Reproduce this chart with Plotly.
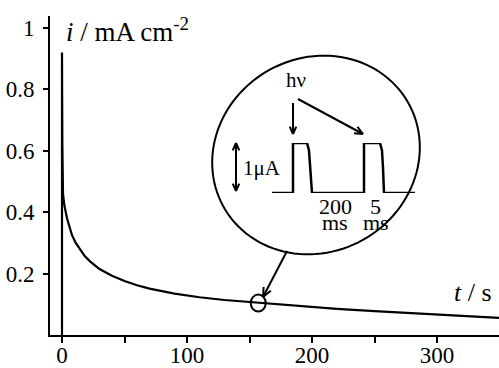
import numpy as np
import plotly.graph_objects as go

# Chronoamperometric current decay (time in s, current density in mA cm^-2)
time_s = [0, 0, 0.3, 0.8, 2, 4, 6, 8, 11, 14.4, 18, 22.4, 30, 40, 50, 60, 70, 90, 110,
          130, 157, 190, 220, 250, 280, 310, 350]
current = [0, 0.92, 0.62, 0.46, 0.42, 0.38, 0.35, 0.325, 0.3, 0.278, 0.258, 0.24,
           0.215, 0.193, 0.176, 0.162, 0.151, 0.135, 0.123, 0.114, 0.105, 0.094,
           0.085, 0.078, 0.071, 0.064, 0.056]

# Highlighted point on the decay curve
marked_t = 157
marked_i = 0.104

# Schematic photocurrent response to light pulses (inset, current in uA)
pulse_x = [0, 21, 21, 35, 37, 38.5, 40, 92, 92, 108, 110, 111, 112, 143]
pulse_y = [0, 0, 1, 1, 0.85, 0.5, 0, 0, 1, 1, 0.85, 0.5, 0, 0]

x_ticks = [0, 50, 100, 150, 200, 250, 300]
x_tick_text = ["0", "", "100", "", "200", "", "300"]
y_ticks = [0.2, 0.4, 0.6, 0.8, 1.0]
y_tick_text = ["0.2", "0.4", "0.6", "0.8", "1"]

W, H = 499, 368
ML, MR, MT, MB = 50, 0, 16, 33
PW, PH = W - ML - MR, H - MT - MB
FONT = "Liberation Serif"


def px(x, y):
    """Pixel position -> paper coordinates."""
    return (x - ML) / PW, (H - MB - y) / PH


def path_from(points, close=False):
    pts = [px(x, y) for x, y in points]
    s = "M " + " L ".join(f"{a:.5f},{b:.5f}" for a, b in pts)
    return s + (" Z" if close else "")


def arrow(x0, y0, x1, y1, head=8, ang=24):
    d = np.array([x1 - x0, y1 - y0], float)
    d /= np.linalg.norm(d)
    shapes = [dict(type="path", path=path_from([(x0, y0), (x1, y1)]))]
    for s in (1, -1):
        a = np.radians(ang * s)
        r = np.array([[np.cos(a), -np.sin(a)], [np.sin(a), np.cos(a)]]) @ d
        hx, hy = x1 - head * r[0], y1 - head * r[1]
        shapes.append(dict(type="path", path=path_from([(hx, hy), (x1, y1)])))
    return shapes


fig = go.Figure()
fig.add_trace(go.Scatter(x=time_s, y=current, mode="lines",
                         line=dict(color="black", width=2.2),
                         hoverinfo="skip", showlegend=False))
fig.add_trace(go.Scatter(x=pulse_x, y=pulse_y, mode="lines", xaxis="x2", yaxis="y2",
                         line=dict(color="black", width=2.5),
                         hoverinfo="skip", showlegend=False))

shapes = []
# callout ellipse
t = np.linspace(0, 2 * np.pi, 120)
cx, cy, a, b, th = 316, 155, 106, 97, np.radians(30)
ex = cx + a * np.cos(t) * np.cos(th) - b * np.sin(t) * np.sin(th)
ey = cy - (a * np.cos(t) * np.sin(th) + b * np.sin(t) * np.cos(th))
shapes.append(dict(type="path", path=path_from(list(zip(ex, ey)), close=True)))
# arrows
shapes += arrow(287, 251, 263, 297, head=10)
shapes += arrow(293, 103, 293, 134, head=8)
shapes += arrow(298, 99, 363, 134, head=9)
shapes += arrow(236, 167, 236, 143, head=8)
shapes += arrow(236, 167, 236, 191, head=8)
for s in shapes:
    s.update(xref="paper", yref="paper", line=dict(color="black", width=2))

# small marker ellipse on the curve
shapes.append(dict(type="circle", xref="x", yref="y",
                   xsizemode="pixel", ysizemode="pixel",
                   xanchor=marked_t, yanchor=marked_i,
                   x0=-7.5, x1=7.5, y0=-8.5, y1=8.5,
                   line=dict(color="black", width=2)))

annotations = []


def label(text, x, y, size, xanchor="center"):
    xp, yp = px(x, y)
    annotations.append(dict(text=text, x=xp, y=yp, xref="paper", yref="paper",
                            xanchor=xanchor, yanchor="middle", showarrow=False,
                            font=dict(family=FONT, size=size, color="black")))


label("<i>i</i> / mA cm<sup>-2</sup>", 64, 30, 27, xanchor="left")
label("<i>t</i> / s", 452, 292, 26, xanchor="left")
label("hν", 296, 80, 21)
label("1μA", 262, 168, 21)
label("200", 335, 206, 22)
label("ms", 335, 223, 22)
label("5", 375, 206, 22)
label("ms", 376, 223, 22)

inset_x0, inset_y_top = px(272, 143)
inset_x1, inset_y_bot = px(415, 193)

fig.update_layout(
    width=W, height=H,
    margin=dict(l=ML, r=MR, t=MT, b=MB, autoexpand=False),
    paper_bgcolor="white", plot_bgcolor="white",
    font=dict(family=FONT, size=23, color="black"),
    shapes=shapes, annotations=annotations,
    xaxis=dict(range=[-9.6, 349.6], showline=True, linewidth=2, linecolor="black",
               ticks="outside", ticklen=6, tickwidth=2, tickcolor="black",
               tickvals=x_ticks, ticktext=x_tick_text, showgrid=False,
               zeroline=False, automargin=False, ticklabelstandoff=-8),
    yaxis=dict(range=[0, 1.039], showline=True, linewidth=2, linecolor="black",
               ticks="outside", ticklen=5, tickwidth=2, tickcolor="black",
               tickvals=y_ticks, ticktext=y_tick_text, showgrid=False,
               zeroline=False, ticklabelstandoff=4, automargin=False),
    xaxis2=dict(domain=[inset_x0, inset_x1], range=[0, 143], anchor="y2",
                visible=False),
    yaxis2=dict(domain=[inset_y_bot, inset_y_top], range=[0, 1], anchor="x2",
                visible=False),
)

fig.write_html("out.html")
